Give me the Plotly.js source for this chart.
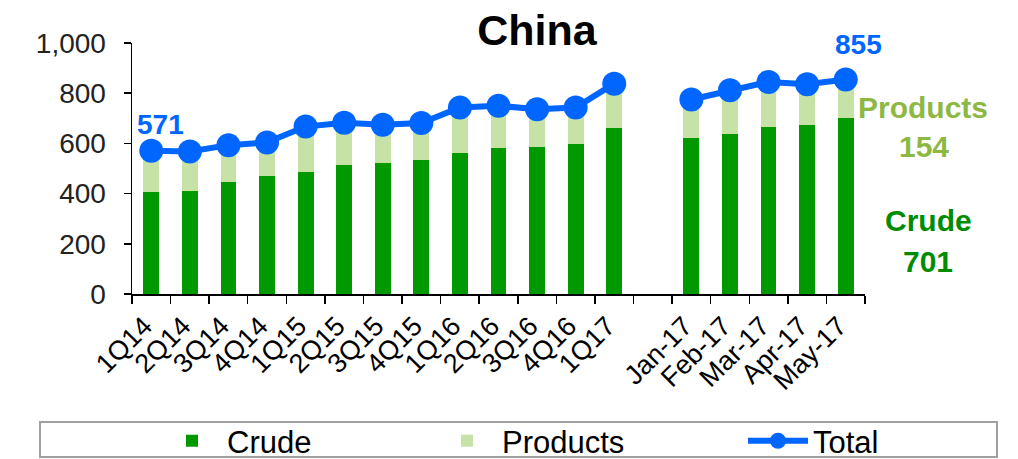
<!DOCTYPE html>
<html>
<head>
<meta charset="utf-8">
<script src="https://cdn.plot.ly/plotly-3.0.1.min.js"></script>
<style>html,body{margin:0;padding:0;background:#fff;}#chart{width:1018px;height:459px;}</style>
</head>
<body>
<div id="chart"></div>
<script>
const categories = ["1Q14","2Q14","3Q14","4Q14","1Q15","2Q15","3Q15","4Q15","1Q16","2Q16","3Q16","4Q16","1Q17"," ","Jan-17","Feb-17","Mar-17","Apr-17","May-17"];
const crude    = [405, 411, 447, 470, 488, 514, 523, 535, 560, 580, 586, 598, 663, null, 622, 637, 666, 675, 701];
const products = [166, 157, 146, 134, 179, 168, 151, 146, 183, 170, 150, 145, 175, null, 153, 175, 179, 161, 154];
const total    = [571, 568, 593, 604, 667, 682, 674, 681, 743, 750, 736, 743, 838, null, 775, 812, 845, 836, 855];
const yTicks   = [0, 200, 400, 600, 800, 1000];

const FONT = "Liberation Sans, Arial, sans-serif";
const C_CRUDE = "#009900", C_PROD = "#C6E2A6", C_TOTAL = "#0066FF";

const lastIdx = total.length - 1;

const traces = [
  {type:"bar", name:"Crude", x:categories, y:crude, marker:{color:C_CRUDE}, legend:"legend"},
  {type:"bar", name:"Products", x:categories, y:products, marker:{color:C_PROD}, legend:"legend2"},
  {type:"scatter", mode:"lines+markers", name:"Total", x:categories, y:total,
   line:{color:C_TOTAL, width:6}, marker:{color:C_TOTAL, size:24}, connectgaps:false, legend:"legend3"}
];

function legendAt(px) {
  return {orientation:"h", xref:"container", yref:"container", x:px/1018, xanchor:"left",
          y:0.039, yanchor:"middle", itemwidth:60,
          font:{family:FONT, size:31, color:"#000"}, bgcolor:"rgba(0,0,0,0)", borderwidth:0};
}

const layout = {
  width:1018, height:459,
  margin:{l:132, r:153, t:43, b:165},
  paper_bgcolor:"#fff", plot_bgcolor:"#fff",
  barmode:"stack", bargap:0.59,
  font:{family:FONT, color:"#000"},
  title:{text:"<b>China</b>", font:{family:FONT, size:43, color:"#000"},
         xref:"paper", x:0.5525, xanchor:"center", yref:"container", y:0.935, yanchor:"middle"},
  xaxis:{type:"category", range:[-0.5, 18.5], showgrid:false, zeroline:false,
         showline:true, linecolor:"#000", linewidth:1.5,
         ticks:"outside", tickson:"boundaries", ticklen:8, tickcolor:"#000", tickwidth:1.5,
         tickangle:-45, ticklabelshift:-7, ticklabelstandoff:4,
         tickfont:{family:FONT, size:27, color:"#000"}, automargin:false},
  yaxis:{range:[0,1000], tickvals:yTicks, tickformat:",d", showgrid:false, zeroline:false,
         showline:true, linecolor:"#000", linewidth:1.5,
         ticks:"outside", ticklen:7, tickcolor:"#000", tickwidth:1.5, ticklabelstandoff:12,
         tickfont:{family:FONT, size:28, color:"#222"}, automargin:false},
  showlegend:true,
  legend:legendAt(157),
  legend2:legendAt(432),
  legend3:legendAt(743),
  shapes:[
    {type:"rect", xref:"paper", yref:"paper", x0:(40-132)/733, x1:(997-132)/733,
     y0:(294-457)/251, y1:(294-422)/251, line:{color:"#A0A0A0", width:2}, fillcolor:"rgba(0,0,0,0)", layer:"below"}
  ],
  annotations:[
    {xref:"x", yref:"y", x:categories[0], y:total[0], text:"<b>"+total[0]+"</b>", showarrow:false,
     xanchor:"center", yanchor:"middle", xshift:9, yshift:26, font:{family:FONT, size:28, color:C_TOTAL}},
    {xref:"x", yref:"y", x:categories[lastIdx], y:total[lastIdx], text:"<b>"+total[lastIdx]+"</b>", showarrow:false,
     xanchor:"center", yanchor:"middle", xshift:13, yshift:35, font:{family:FONT, size:28, color:C_TOTAL}},
    {xref:"paper", yref:"paper", x:(923-132)/733, y:(294-107)/251, text:"<b>Products</b>", showarrow:false,
     xanchor:"center", yanchor:"middle", font:{family:FONT, size:30, color:"#8DB843"}},
    {xref:"paper", yref:"paper", x:(924-132)/733, y:(294-146)/251, text:"<b>"+products[lastIdx]+"</b>", showarrow:false,
     xanchor:"center", yanchor:"middle", font:{family:FONT, size:30, color:"#8DB843"}},
    {xref:"paper", yref:"paper", x:(928-132)/733, y:(294-220)/251, text:"<b>Crude</b>", showarrow:false,
     xanchor:"center", yanchor:"middle", font:{family:FONT, size:30, color:"#008C00"}},
    {xref:"paper", yref:"paper", x:(928-132)/733, y:(294-261)/251, text:"<b>"+crude[lastIdx]+"</b>", showarrow:false,
     xanchor:"center", yanchor:"middle", font:{family:FONT, size:30, color:"#008C00"}}
  ]
};

Plotly.newPlot("chart", traces, layout, {displayModeBar:false, staticPlot:true});
</script>
</body>
</html>
